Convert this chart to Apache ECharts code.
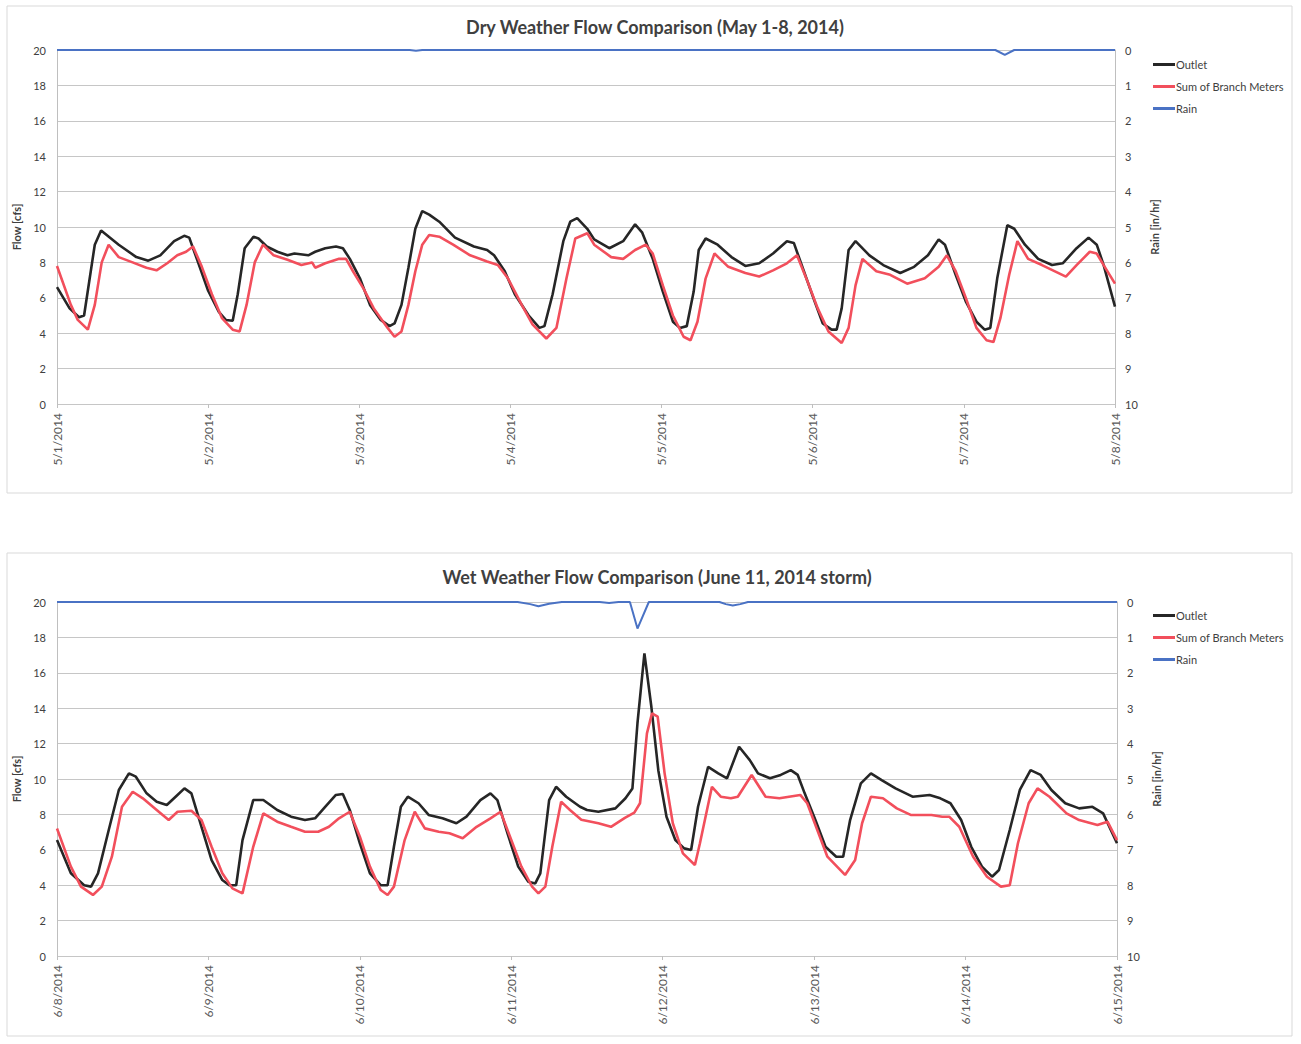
<!DOCTYPE html>
<html>
<head>
<meta charset="utf-8">
<script src="https://cdn.jsdelivr.net/npm/echarts@6/dist/echarts.min.js"></script>
<style>
html,body{margin:0;padding:0;background:#fff;}
#chart{width:1301px;height:1044px;}
</style>
</head>
<body>
<div id="chart"></div>
<script>
// ---- tick labels ----
const dryDates = ['5/1/2014','5/2/2014','5/3/2014','5/4/2014','5/5/2014','5/6/2014','5/7/2014','5/8/2014'];
const wetDates = ['6/8/2014','6/9/2014','6/10/2014','6/11/2014','6/12/2014','6/13/2014','6/14/2014','6/15/2014'];
const dryTitle = 'Dry Weather Flow Comparison (May 1-8, 2014)';
const wetTitle = 'Wet Weather Flow Comparison (June 11, 2014 storm)';
const seriesNames = ['Outlet', 'Sum of Branch Meters', 'Rain'];

// ---- data: [hours since first day, value] ----
const dryOutlet = [[0,6.6],[2,5.4],[3.5,4.9],[4.3,5.0],[6,9.0],[7,9.8],[9.8,9.0],[12.6,8.3],[14.5,8.1],[16.4,8.4],[18.6,9.2],[20.2,9.5],[21,9.4],[22.4,8.0],[24,6.4],[25.7,5.2],[26.8,4.75],[27.9,4.7],[28.7,6.2],[29.8,8.8],[31.2,9.45],[32,9.35],[33.3,8.9],[35,8.6],[36.6,8.4],[37.7,8.5],[39.9,8.4],[41,8.6],[42.6,8.8],[44.3,8.9],[45.4,8.8],[46.5,8.2],[48.1,7.1],[49.7,5.6],[51.4,4.75],[52.8,4.4],[53.6,4.55],[54.7,5.6],[55.8,7.7],[56.9,9.9],[58,10.9],[59.1,10.7],[60.7,10.3],[63.2,9.4],[66.2,8.9],[68.3,8.7],[69.4,8.4],[71.1,7.5],[72.7,6.2],[74.9,5.0],[76.6,4.3],[77.4,4.4],[78.7,6.2],[80.4,9.2],[81.5,10.3],[82.6,10.5],[84.2,9.9],[85.3,9.3],[87.7,8.8],[89.9,9.2],[91.8,10.15],[92.9,9.7],[94.6,8.2],[96.2,6.35],[97.8,4.65],[98.9,4.3],[100,4.4],[101.1,6.35],[101.9,8.7],[103,9.35],[104.9,9.0],[107.1,8.3],[109.3,7.8],[111.5,7.95],[113.7,8.5],[115.9,9.2],[117,9.1],[118.6,7.5],[120.3,5.8],[121.6,4.55],[123,4.2],[123.8,4.2],[124.6,5.4],[125.7,8.7],[126.8,9.2],[129,8.4],[131.2,7.85],[133.9,7.4],[136.1,7.75],[138.3,8.4],[140,9.3],[141,9.0],[142.7,7.3],[144.3,5.8],[146,4.65],[147.3,4.2],[148.2,4.3],[149.3,7.1],[150.9,10.1],[152,9.9],[153.7,9.0],[155.8,8.2],[158,7.85],[159.7,7.95],[161.9,8.8],[163.8,9.4],[165.1,9.0],[166.2,7.85],[168,5.5]];
const dryBranch = [[0,7.8],[2.2,5.6],[3.3,4.75],[4.9,4.2],[6,5.6],[7.1,8.0],[8.2,9.0],[9.8,8.3],[12,8.0],[14.2,7.7],[15.8,7.55],[17.5,7.95],[19.1,8.4],[20.5,8.6],[21.6,8.9],[23,7.75],[24.6,6.2],[26.2,4.85],[27.9,4.2],[29,4.1],[30.1,5.6],[31.4,8.0],[32.7,9.0],[34.4,8.4],[36.6,8.15],[38.8,7.85],[40.5,8.0],[41,7.7],[42.6,7.95],[44.8,8.2],[45.9,8.2],[47,7.5],[48.7,6.5],[50.3,5.4],[52.5,4.3],[53.6,3.8],[54.7,4.1],[55.8,5.6],[56.9,7.5],[58,9.0],[59.1,9.55],[60.7,9.45],[62.9,9.0],[65.6,8.4],[68.3,8.05],[70,7.85],[71.6,7.1],[73.8,5.6],[75.5,4.5],[77.7,3.7],[79.3,4.3],[80.9,7.1],[82.3,9.35],[84.2,9.65],[85.3,9.0],[88,8.3],[89.9,8.2],[91.8,8.7],[93.5,9.0],[94.6,8.5],[96.2,6.7],[97.8,5.0],[99.5,3.8],[100.6,3.6],[101.7,4.65],[103,7.1],[104.4,8.5],[106.6,7.75],[109.3,7.4],[111.5,7.2],[113.7,7.55],[115.9,7.95],[117.5,8.4],[119.2,6.9],[120.8,5.4],[122.5,4.1],[124.6,3.45],[125.7,4.3],[126.8,6.7],[127.9,8.2],[130.1,7.5],[132.3,7.3],[135,6.8],[137.8,7.1],[140,7.75],[141.3,8.4],[142.7,7.5],[144.3,6.0],[146,4.3],[147.6,3.6],[148.7,3.5],[149.8,4.85],[151.2,7.3],[152.5,9.2],[154.2,8.2],[156.4,7.85],[160.2,7.2],[161.9,7.85],[164,8.6],[165.1,8.5],[166.2,7.85],[168,6.8]];
const dryRain = [[0,0],[56,0],[57,0.02],[58,0],[149,0],[150.5,0.14],[152,0],[168,0]];

const wetOutlet = [[0,6.55],[2.2,4.67],[4.3,4.0],[5.4,3.92],[6.5,4.67],[8.2,7.12],[9.8,9.38],[11.4,10.32],[12.5,10.13],[14.2,9.19],[15.8,8.72],[17.4,8.53],[18.8,9.0],[20.2,9.47],[21.3,9.19],[22.9,7.3],[24.5,5.42],[26.2,4.29],[27.3,4.0],[28.4,4.0],[29.4,6.55],[31.1,8.81],[32.7,8.81],[34.9,8.25],[37.1,7.87],[39.3,7.68],[40.9,7.78],[42.5,8.43],[44.2,9.1],[45.3,9.15],[46.4,8.25],[48,6.37],[49.6,4.67],[51.3,4.0],[52.4,4.0],[53.4,6.17],[54.5,8.43],[55.6,9.0],[57.3,8.63],[58.9,7.97],[61.1,7.78],[63.3,7.5],[64.9,7.87],[67.1,8.81],[68.7,9.19],[69.8,8.81],[71.4,6.93],[73.1,5.05],[74.7,4.2],[75.8,4.1],[76.6,4.67],[78,8.81],[79.1,9.56],[80.7,9.0],[82.9,8.43],[84,8.25],[85.8,8.15],[88.5,8.34],[90.1,8.91],[91.2,9.47],[92,13.15],[93.1,17.1],[94.2,14.08],[95.3,10.5],[96.6,7.87],[98,6.55],[99.4,6.08],[100.5,5.99],[101.6,8.43],[103.2,10.69],[104.8,10.32],[106.2,10.04],[108.1,11.82],[109.8,11.07],[111.1,10.32],[113,10.04],[114.7,10.23],[116.3,10.5],[117.4,10.23],[118.5,9.19],[120.2,7.68],[121.8,6.17],[123.5,5.61],[124.6,5.61],[125.7,7.68],[127.4,9.75],[129,10.32],[130.7,9.94],[132.9,9.47],[135.6,9.0],[138.3,9.1],[140,8.91],[141.6,8.63],[143.3,7.68],[144.9,6.17],[146.6,5.05],[148.2,4.48],[149.3,4.86],[151,7.12],[152.6,9.38],[154.3,10.5],[155.9,10.23],[157.6,9.38],[159.8,8.63],[162,8.34],[164.1,8.43],[165.8,8.06],[168,6.37]];
const wetBranch = [[0,7.2],[2.2,5.05],[3.8,3.92],[5.7,3.45],[7.1,3.92],[8.7,5.61],[10.3,8.43],[12,9.28],[13.6,8.91],[15.8,8.25],[17.7,7.68],[19.1,8.15],[21.3,8.21],[22.9,7.68],[24.5,6.17],[26.2,4.67],[27.8,3.82],[29.4,3.54],[31.1,6.17],[32.7,8.06],[34.9,7.59],[37.1,7.3],[39.3,7.02],[41.4,7.02],[43.1,7.3],[44.7,7.78],[46.4,8.15],[48,6.74],[49.6,5.05],[51.3,3.73],[52.4,3.45],[53.4,3.92],[55.1,6.55],[56.7,8.15],[58.3,7.21],[60.5,7.02],[62.2,6.93],[64.3,6.65],[66.5,7.3],[68.7,7.78],[70.3,8.15],[72,6.55],[73.6,5.05],[75.3,3.92],[76.3,3.54],[77.4,3.92],[78.5,6.17],[79.9,8.72],[81.3,8.25],[83.1,7.7],[85.8,7.5],[87.8,7.3],[90,7.8],[91.5,8.1],[92.4,8.63],[93.5,12.58],[94.3,13.71],[95.2,13.52],[96.3,10.32],[97.6,7.5],[99.2,5.8],[101.1,5.14],[101.9,6.37],[103.8,9.56],[105.2,9.0],[106.8,8.91],[107.9,9.0],[110.1,10.23],[112.3,9.0],[114.5,8.91],[117.8,9.1],[118.9,8.63],[120.5,7.12],[122.1,5.61],[124.9,4.58],[126.5,5.42],[127.6,7.5],[129,9.0],[130.9,8.91],[133.1,8.34],[135.3,7.97],[138.6,7.97],[140.3,7.87],[141.4,7.87],[143,7.3],[145.2,5.61],[147.4,4.48],[149.6,3.92],[151,4.0],[152.3,6.37],[154,8.63],[155.4,9.47],[157.3,9.0],[160,8.06],[162,7.68],[164.9,7.4],[166.5,7.59],[168,6.55]];
const wetRain = [[0,0],[73,0],[75,0.06],[76.3,0.12],[78,0.05],[80,0],[86,0],[87.5,0.03],[89,0],[90.8,0],[92,0.75],[93.8,0],[105,0],[106,0.06],[107.1,0.1],[108.3,0.06],[109.5,0],[168,0]];

// ---- styling ----
const FONT = 'Lato, "Open Sans", sans-serif';
const C_OUT = '#262626', C_BR = '#f24f5c', C_RAIN = '#4a72c4';
const GRID_C = '#c6c6c6';

function xAxis(gridIndex, labels) {
  return {
    type: 'value', gridIndex, min: 0, max: 168, interval: 24,
    axisLine: { show: false },
    axisTick: { show: true, length: 4, lineStyle: { color: '#bfbfbf' } },
    splitLine: { show: false },
    axisLabel: {
      rotate: 90, margin: 9, fontSize: 12, color: '#595959', fontFamily: FONT,
      formatter: v => labels[Math.round(v / 24)] || ''
    }
  };
}
function yLeft(gridIndex) {
  return {
    type: 'value', gridIndex, min: 0, max: 20, interval: 2,
    name: 'Flow [cfs]', nameLocation: 'middle', nameGap: 31,
    nameTextStyle: { fontSize: 11, fontWeight: 'bold', color: '#404040', fontFamily: FONT },
    axisLine: { show: true, lineStyle: { color: '#bfbfbf' } },
    axisTick: { show: false },
    splitLine: { show: true, lineStyle: { color: GRID_C, width: 1 } },
    axisLabel: { fontSize: 11, color: '#404040', margin: 11, fontFamily: FONT }
  };
}
function yRight(gridIndex) {
  return {
    type: 'value', gridIndex, min: 0, max: 10, interval: 1, inverse: true, position: 'right',
    name: 'Rain [in/hr]', nameLocation: 'middle', nameGap: 27,
    nameTextStyle: { fontSize: 11, fontWeight: 'bold', color: '#404040', fontFamily: FONT },
    axisLine: { show: true, lineStyle: { color: '#bfbfbf' } },
    axisTick: { show: false },
    splitLine: { show: false },
    axisLabel: { fontSize: 11, color: '#404040', margin: 10, fontFamily: FONT }
  };
}
function line(name, data, color, xi, yi, w) {
  return {
    name, type: 'line', data, xAxisIndex: xi, yAxisIndex: yi,
    showSymbol: false, symbol: 'none', smooth: false,
    lineStyle: { color, width: w }, itemStyle: { color },
    animation: false
  };
}
function legend(top) {
  return {
    orient: 'vertical', left: 1148, top, itemGap: 11,
    itemWidth: 22, itemHeight: 3, icon: 'rect',
    textStyle: { fontSize: 11, color: '#404040', fontFamily: FONT, padding: [0, 0, 0, -4] },
    data: seriesNames
  };
}

const chart = echarts.init(document.getElementById('chart'), null, { renderer: 'svg' });
chart.setOption({
  backgroundColor: '#fff',
  animation: false,
  graphic: [
    { type: 'rect', shape: { x: 7, y: 6, width: 1285, height: 487 }, style: { fill: 'none', stroke: '#d9d9d9', lineWidth: 1 }, z: -10 },
    { type: 'rect', shape: { x: 7, y: 553, width: 1285, height: 483 }, style: { fill: 'none', stroke: '#d9d9d9', lineWidth: 1 }, z: -10 },
    { type: 'text', style: { x: 655, y: 27, text: dryTitle, textAlign: 'center', textVerticalAlign: 'middle', font: 'bold 18px ' + FONT, fill: '#404040' } },
    { type: 'text', style: { x: 657, y: 577, text: wetTitle, textAlign: 'center', textVerticalAlign: 'middle', font: 'bold 18px ' + FONT, fill: '#404040' } }
  ],
  legend: [legend(54), legend(605)],
  grid: [
    { left: 57, top: 50, width: 1058, height: 354 },
    { left: 57, top: 602, width: 1060, height: 354 }
  ],
  xAxis: [xAxis(0, dryDates), xAxis(1, wetDates)],
  yAxis: [yLeft(0), yRight(0), yLeft(1), yRight(1)],
  series: [
    line(seriesNames[0], dryOutlet, C_OUT, 0, 0, 2.6),
    line(seriesNames[1], dryBranch, C_BR, 0, 0, 2.6),
    line(seriesNames[2], dryRain, C_RAIN, 0, 1, 2),
    line(seriesNames[0], wetOutlet, C_OUT, 1, 2, 2.6),
    line(seriesNames[1], wetBranch, C_BR, 1, 2, 2.6),
    line(seriesNames[2], wetRain, C_RAIN, 1, 3, 2)
  ]
});
</script>
</body>
</html>
